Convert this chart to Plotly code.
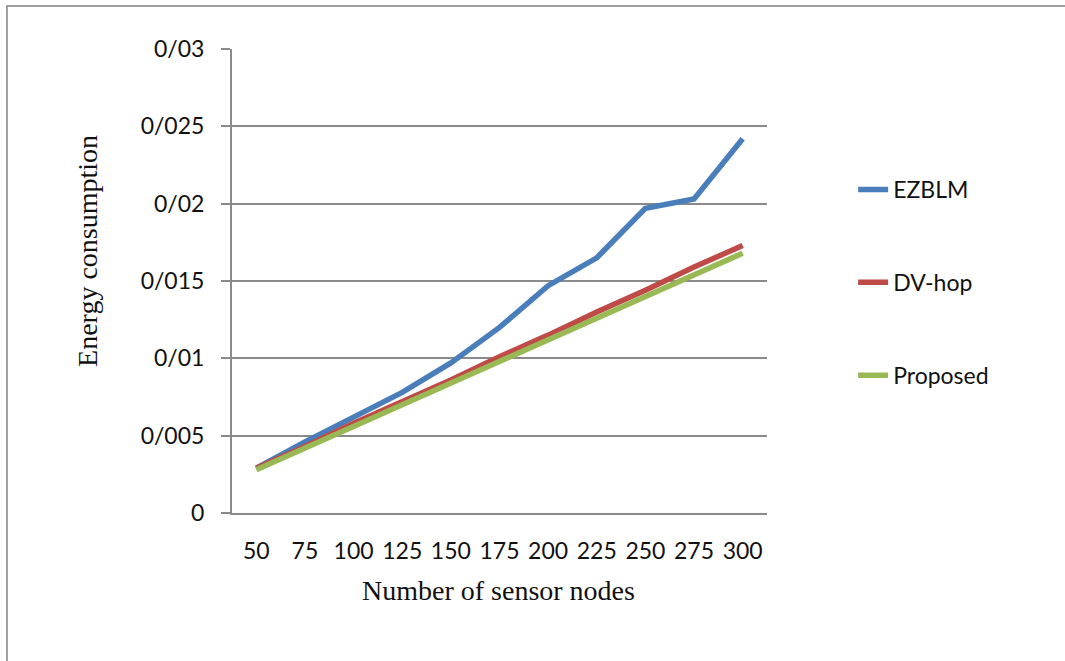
import plotly.graph_objects as go

categories = ["50", "75", "100", "125", "150", "175", "200", "225", "250", "275", "300"]
ezblm = [0.0029, 0.0046, 0.0062, 0.0078, 0.0097, 0.0120, 0.0147, 0.0165, 0.0197, 0.0203, 0.0242]
dvhop = [0.0029, 0.0043, 0.0058, 0.0072, 0.0086, 0.0101, 0.0115, 0.0130, 0.0144, 0.0159, 0.0173]
proposed = [0.0028, 0.0042, 0.0056, 0.0070, 0.0084, 0.0098, 0.0112, 0.0126, 0.0140, 0.0154, 0.0168]
series_names = ["EZBLM", "DV-hop", "Proposed"]
colors = ["#4A7EBB", "#BE4B48", "#98B954"]
y_ticks = [0, 0.005, 0.01, 0.015, 0.02, 0.025, 0.03]
y_ticktext = ["0", "0/005", "0/01", "0/015", "0/02", "0/025", "0/03"]

grid = "#8a8a8a"
txt = "#111111"
fig = go.Figure()
for i, (name, vals) in enumerate(zip(series_names, [ezblm, dvhop, proposed])):
    fig.add_trace(go.Scatter(
        x=categories, y=vals, name=name, mode="lines",
        line=dict(color=colors[i], width=5.5),
        legendgroup=name,
    ))

fig.update_layout(
    width=1065, height=661,
    margin=dict(l=232, r=298, t=49, b=148),
    paper_bgcolor="white", plot_bgcolor="white",
    font=dict(family="Lato", size=23, color=txt),
    showlegend=True,
    legend=dict(
        x=1.161, y=0.7435, xanchor="left", yanchor="top",
        tracegroupgap=60, font=dict(family="Lato", size=23, color=txt),
        bgcolor="rgba(0,0,0,0)",
    ),
    xaxis=dict(
        type="category", range=[-0.5, 10.5],
        showgrid=False, showline=True, linecolor=grid, linewidth=2,
        ticks="", ticklabelstandoff=16,
        tickfont=dict(family="Lato", size=23, color=txt),
        zeroline=False,
    ),
    yaxis=dict(
        range=[0, 0.03], tickvals=y_ticks, ticktext=y_ticktext,
        showgrid=True, gridcolor=grid, gridwidth=2,
        showline=True, linecolor=grid, linewidth=2,
        ticks="outside", ticklen=9, tickwidth=2, tickcolor=grid,
        ticklabelstandoff=12,
        tickfont=dict(family="Lato", size=23, color=txt),
        zeroline=False,
    ),
    annotations=[
        dict(text="Number of sensor nodes", xref="paper", yref="paper",
             x=0.499, y=-0.166, xanchor="center", yanchor="middle", showarrow=False,
             font=dict(family="Liberation Serif", size=28, color=txt)),
        dict(text="Energy consumption", xref="paper", yref="paper",
             x=-0.269, y=0.565, xanchor="center", yanchor="middle", showarrow=False,
             textangle=-90,
             font=dict(family="Liberation Serif", size=28, color=txt)),
    ],
    shapes=[
        dict(type="rect", xref="paper", yref="paper",
             x0=-0.4206, x1=1.6, y0=-0.40, y1=1.0927,
             line=dict(color="#808080", width=1.5), layer="below"),
    ],
)

fig.write_html("out.html")
